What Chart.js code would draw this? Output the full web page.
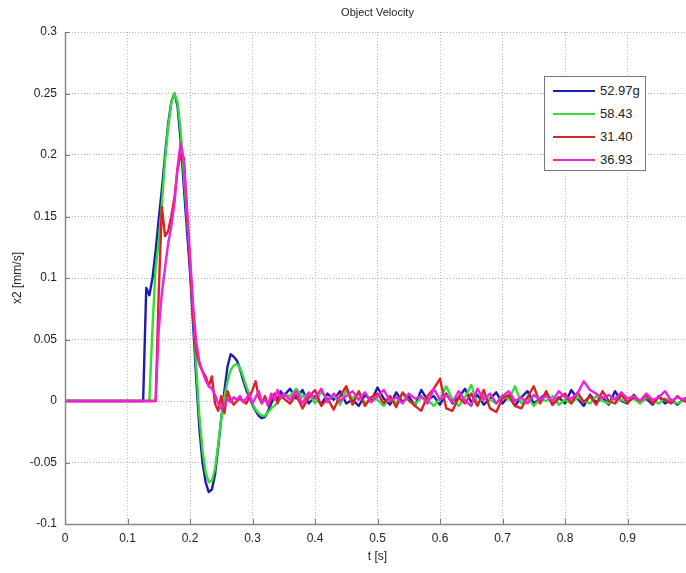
<!DOCTYPE html>
<html>
<head>
<meta charset="utf-8">
<script src="https://cdn.jsdelivr.net/npm/chart.js@4.4.1/dist/chart.umd.min.js"></script>
<style>
  html, body { margin: 0; padding: 0; background: #fff; overflow: hidden; }
  #wrap { position: relative; width: 690px; height: 573px; }
  #legend {
    position: absolute; left: 544px; top: 76px; width: 102px; height: 95px;
    border: 1px solid #777; background: #fff; box-sizing: border-box;
    padding-top: 2px; font-family: "Liberation Sans", Arial, sans-serif; font-size: 13px; color: #222;
  }
  #legend .row { height: 23px; display: flex; align-items: center; }
  #legend .swatch { width: 42px; height: 2px; margin-left: 8px; margin-right: 5px; }
</style>
</head>
<body>
<div id="wrap">
  <canvas id="chart"></canvas>
  <div id="legend"></div>
</div>
<script>
// time axis [s]
const time = [0, 0.12, 0.125, 0.13, 0.135, 0.14, 0.145, 0.15, 0.155, 0.16, 0.165, 0.17, 0.175, 0.18, 0.185, 0.19,
  0.195, 0.2, 0.205, 0.21, 0.215, 0.22, 0.225, 0.23, 0.235, 0.24, 0.245, 0.25, 0.255, 0.26, 0.265, 0.27, 0.275,
  0.28, 0.285, 0.29, 0.295, 0.3, 0.305, 0.31, 0.315, 0.32, 0.325, 0.33, 0.335, 0.34, 0.345, 0.35,
  0.36, 0.37, 0.38, 0.39, 0.4, 0.41, 0.42, 0.43, 0.44, 0.45,
  0.46, 0.47, 0.48, 0.49, 0.5, 0.51, 0.52, 0.53, 0.54, 0.55,
  0.56, 0.57, 0.58, 0.59, 0.6, 0.61, 0.62, 0.63, 0.64, 0.65,
  0.66, 0.67, 0.68, 0.69, 0.7, 0.71, 0.72, 0.73, 0.74, 0.75,
  0.76, 0.77, 0.78, 0.79, 0.8, 0.81, 0.82, 0.83, 0.84, 0.85,
  0.86, 0.87, 0.88, 0.89, 0.9, 0.91, 0.92, 0.93, 0.94, 0.95,
  0.96, 0.97, 0.98, 0.99, 1.0];

// velocity [mm/s]
const v5297 = [0, 0, 0, 0.092, 0.086, 0.1, 0.122, 0.148, 0.172, 0.2, 0.225, 0.243, 0.25, 0.24, 0.212, 0.175,
  0.14, 0.105, 0.062, 0.018, -0.022, -0.05, -0.066, -0.074, -0.072, -0.06, -0.038, -0.014, 0.008, 0.028, 0.038, 0.036, 0.033,
  0.026, 0.017, 0.009, 0.003, -0.003, -0.008, -0.012, -0.014, -0.013, -0.008, -0.002, 0.004, 0.001, 0.008, 0.004,
  0.01, 0.002, 0.009, -0.002, 0.004, -0.003, 0.006, 0.001, 0.008, -0.002,
  0.001, -0.004, 0.005, 0.0, 0.011, 0.002, -0.003, 0.007, -0.001, 0.004,
  -0.004, 0.009, 0.001, 0.004, -0.003, 0.006, -0.002, 0.003, 0.01, -0.001,
  0.005, -0.003, 0.002, 0.007, -0.002, 0.004, -0.004, 0.003, 0.008, -0.002,
  0.002, 0.006, -0.003, 0.003, -0.002, 0.009, 0.002, -0.004, 0.005, -0.001,
  0.003, -0.003, 0.008, 0.0, -0.002, 0.005, -0.001, 0.002, -0.003, 0.004,
  -0.002, 0.001, -0.003, 0.002, -0.003];

const v5843 = [0, 0, 0, 0, 0, 0.06, 0.108, 0.13, 0.16, 0.195, 0.222, 0.242, 0.25, 0.243, 0.22, 0.185,
  0.15, 0.115, 0.072, 0.028, -0.012, -0.04, -0.058, -0.066, -0.065, -0.055, -0.036, -0.015, 0.003, 0.016, 0.025, 0.029, 0.03,
  0.027, 0.02, 0.012, 0.005, -0.002, -0.007, -0.01, -0.012, -0.012, -0.009, -0.006, -0.004, -0.001, 0.002, 0.005,
  0.004, 0.01, 0.003, 0.006, -0.002, 0.008, 0.001, 0.005, -0.003, 0.009,
  0.002, 0.006, -0.002, 0.003, 0.001, -0.004, 0.004, -0.002, 0.006, 0.0,
  -0.003, 0.003, 0.001, -0.004, 0.002, 0.012, 0.001, -0.004, 0.003, 0.013,
  -0.003, 0.004, 0.001, -0.002, 0.005, 0.001, 0.012, -0.002, 0.003, -0.004,
  0.002, 0.0, 0.004, -0.003, 0.001, -0.002, 0.003, 0.0, -0.002, 0.004,
  0.0, -0.002, 0.003, 0.001, -0.001, 0.002, -0.002, 0.003, 0.0, -0.002,
  0.002, 0.0, -0.002, 0.001, 0.002];

const v3140 = [0, 0, 0, 0, 0, 0, 0, 0.088, 0.158, 0.134, 0.138, 0.15, 0.165, 0.188, 0.2, 0.198,
  0.155, 0.11, 0.068, 0.04, 0.03, 0.024, 0.02, 0.012, 0.02, -0.002, -0.008, 0.004, -0.01, 0.008, 0.001, -0.003, 0,
  0.002, 0, -0.002, 0.003, 0.009, 0.016, 0.003, -0.002, 0.004, -0.004, 0.002, 0.006, -0.002, 0.005, 0.002,
  -0.002, 0.005, -0.006, 0.003, 0.009, -0.004, 0.002, -0.007, 0.004, 0.012,
  -0.003, 0.008, -0.004, 0.003, 0.006, -0.002, 0.004, -0.005, 0.007, 0.001,
  -0.004, -0.008, 0.004, 0.01, 0.018, -0.006, -0.008, 0.003, -0.002, 0.006,
  -0.004, 0.009, -0.006, -0.009, 0.002, 0.005, -0.004, -0.006, 0.003, 0.012,
  -0.002, 0.008, -0.003, 0.002, 0.006, -0.002, 0.007, -0.001, 0.004, -0.003,
  0.008, 0.0, -0.002, 0.005, -0.001, 0.003, 0.0, 0.005, -0.002, 0.003,
  0.001, -0.002, 0.004, 0.0, -0.002];

const v3693 = [0, 0, 0, 0, 0, 0, 0, 0.058, 0.088, 0.108, 0.128, 0.142, 0.16, 0.19, 0.21, 0.196,
  0.158, 0.118, 0.078, 0.048, 0.032, 0.024, 0.017, 0.012, 0.01, 0.005, -0.002, -0.006, -0.004, 0.002, -0.001, 0.003, 0.001,
  0.004, -0.001, 0.002, 0.006, -0.002, 0.003, 0.008, -0.001, 0.001, -0.003, 0.006, 0.001, 0.009, 0.002, 0.006,
  0.001, 0.008, -0.002, 0.007, 0.002, 0.01, -0.001, 0.006, 0.0, 0.004,
  0.008, 0.001, 0.007, -0.001, 0.004, 0.009, 0.0, 0.003, -0.002, 0.006,
  0.002, 0.004, -0.002, 0.01, 0.001, 0.005, -0.001, 0.008, 0.0, -0.004,
  0.01, 0.001, 0.006, -0.002, 0.004, 0.008, 0.0, 0.003, -0.002, 0.005,
  0.001, 0.004, 0.0, 0.008, 0.003, 0.002, 0.006, 0.016, 0.009, 0.006,
  0.002, 0.005, 0.001, 0.007, 0.002, 0.004, 0.0, 0.006, 0.001, 0.003,
  0.008, 0.0, 0.003, 0.001, 0.005];

const seriesNames = ["52.97g", "58.43", "31.40", "36.93"];
const seriesValues = [v5297, v5843, v3140, v3693];
const seriesColors = ["#1c1cb0", "#33dd33", "#dd2222", "#ee22dd"];

const xTicks = [0, 0.1, 0.2, 0.3, 0.4, 0.5, 0.6, 0.7, 0.8, 0.9];
const yTicks = [-0.1, -0.05, 0, 0.05, 0.1, 0.15, 0.2, 0.25, 0.3];

const FONT = "'Liberation Sans', Arial, sans-serif";

// inward tick marks like matlab
const innerTicks = {
  id: "innerTicks",
  afterDraw(chart) {
    const { ctx, chartArea, scales } = chart;
    ctx.save();
    ctx.strokeStyle = "#777";
    ctx.lineWidth = 1;
    ctx.beginPath();
    xTicks.forEach(t => {
      const x = Math.round(scales.x.getPixelForValue(t)) + 0.5;
      ctx.moveTo(x, chartArea.bottom);
      ctx.lineTo(x, chartArea.bottom - 5);
    });
    yTicks.forEach(t => {
      const y = Math.round(scales.y.getPixelForValue(t)) + 0.5;
      ctx.moveTo(chartArea.left, y);
      ctx.lineTo(chartArea.left + 5, y);
    });
    ctx.stroke();
    ctx.restore();
  }
};

// solid axis lines on left and bottom
const axisLines = {
  id: "axisLines",
  afterDraw(c) {
    const { ctx, chartArea } = c;
    ctx.save();
    ctx.strokeStyle = "#888";
    ctx.lineWidth = 1.5;
    ctx.beginPath();
    ctx.moveTo(chartArea.left + 0.5, chartArea.top);
    ctx.lineTo(chartArea.left + 0.5, chartArea.bottom + 0.5);
    ctx.lineTo(chartArea.right, chartArea.bottom + 0.5);
    ctx.stroke();
    ctx.restore();
  }
};

const ctx = document.getElementById("chart").getContext("2d");
const chart = new Chart(ctx, {
  type: "line",
  data: {
    datasets: seriesNames.map((name, i) => ({
      label: name,
      data: time.map((t, k) => ({ x: t, y: seriesValues[i][k] })),
      borderColor: seriesColors[i],
      borderWidth: 2.4,
      pointRadius: 0,
      tension: 0,
      borderJoinStyle: "round",
      order: 4 - i
    }))
  },
  options: {
    responsive: true,
    maintainAspectRatio: false,
    animation: false,
    layout: { padding: 0 },
    plugins: {
      legend: { display: false },
      tooltip: { enabled: false },
      title: {
        display: true,
        text: "Object Velocity",
        fullSize: false,
        color: "#222",
        font: { family: FONT, size: 11, weight: "normal", lineHeight: 1.2 },
        padding: { top: 6, bottom: 12.8 }
      }
    },
    scales: {
      x: {
        type: "linear",
        min: 0,
        max: 1,
        afterBuildTicks: s => { s.ticks = xTicks.map(v => ({ value: v })); },
        afterFit: s => { s.height = 49; },
        ticks: {
          callback: v => String(v),
          color: "#222",
          font: { family: FONT, size: 12 },
          padding: 7,
          maxRotation: 0
        },
        grid: { color: "#b4b4b4", drawTicks: false },
        border: { display: true, color: "#888", width: 1, dash: [1, 2] },
        title: {
          display: true,
          text: "t [s]",
          color: "#222",
          font: { family: FONT, size: 12 },
          padding: { top: 0, bottom: 9 }
        }
      },
      y: {
        type: "linear",
        min: -0.1,
        max: 0.3,
        afterBuildTicks: s => { s.ticks = yTicks.map(v => ({ value: v })); },
        afterFit: s => { s.width = 65; },
        ticks: {
          callback: v => String(v),
          color: "#222",
          font: { family: FONT, size: 12 },
          padding: 8
        },
        grid: { color: "#b4b4b4", drawTicks: false },
        border: { display: true, color: "#888", width: 1, dash: [1, 2] },
        title: {
          display: true,
          text: "x2 [mm/s]",
          color: "#222",
          font: { family: FONT, size: 12 },
          padding: { top: 10, bottom: 0 }
        }
      }
    }
  },
  plugins: [innerTicks, axisLines]
});

const legend = document.getElementById("legend");
seriesNames.forEach((name, i) => {
  const row = document.createElement("div");
  row.className = "row";
  row.innerHTML = `<span class="swatch" style="background:${seriesColors[i]}"></span><span>${name}</span>`;
  legend.appendChild(row);
});
</script>
</body>
</html>
